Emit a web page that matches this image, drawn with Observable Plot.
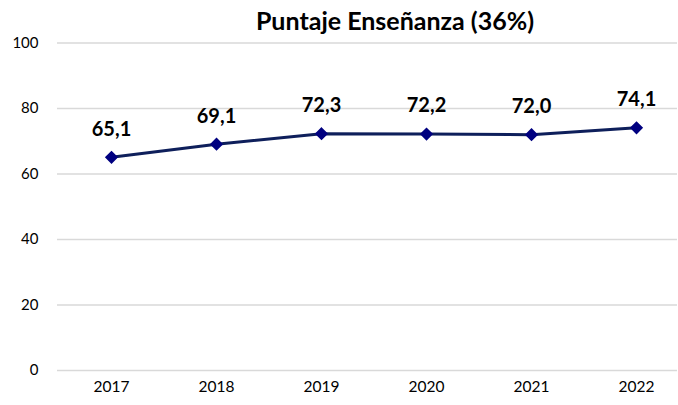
<!DOCTYPE html>
<html><head><meta charset="utf-8">
<script src="https://cdn.jsdelivr.net/npm/d3@7"></script>
<script src="https://cdn.jsdelivr.net/npm/@observablehq/plot@0.6"></script>
<style>
body{margin:0;background:#fff;font-family:Lato,"Open Sans",sans-serif;}
#wrap{position:relative;width:678px;height:405px;}
#title{position:absolute;left:0;width:790px;top:5px;text-align:center;font-weight:bold;font-size:25px;color:#000;}
</style></head>
<body><div id="wrap"><div id="title">Puntaje Enseñanza (36%)</div></div>
<script>
const years = ["2017","2018","2019","2020","2021","2022"];
const scores = [65.1, 69.1, 72.3, 72.2, 72.0, 74.1];
const yTicks = [0,20,40,60,80,100];
const data = years.map((y,i)=>({year:y, score:scores[i], label:scores[i].toFixed(1).replace(".",",")}));
const chart = Plot.plot({
  width:678, height:405,
  marginTop:42.5, marginBottom:35, marginLeft:57, marginRight:1,
  style:{fontFamily:"Lato, 'Open Sans', sans-serif", fontSize:"15px", color:"#000", background:"transparent"},
  x:{type:"point", domain:years, range:[110,637], padding:0, label:null},
  y:{domain:[0,100], ticks:yTicks, label:null},
  marks:[
    Plot.ruleY(yTicks,{stroke:"#d9d9d9", strokeWidth:1.3}),
    Plot.axisY({ticks:yTicks, tickSize:0, tickPadding:19, fontSize:15}),
    Plot.axisX({tickSize:0, tickPadding:10, fontSize:15.5}),
    Plot.line(data,{x:"year", y:"score", stroke:"#0e1f5b", strokeWidth:3}),
    Plot.dot(data,{x:"year", y:"score", symbol:"diamond2", r:5, fill:"#000080", stroke:"#000080"}),
    Plot.text(data,{x:"year", y:"score", text:"label", dy:-28, fontWeight:"bold", fontSize:20, fill:"#000"})
  ]
});
document.getElementById("wrap").appendChild(chart);
</script></body></html>
